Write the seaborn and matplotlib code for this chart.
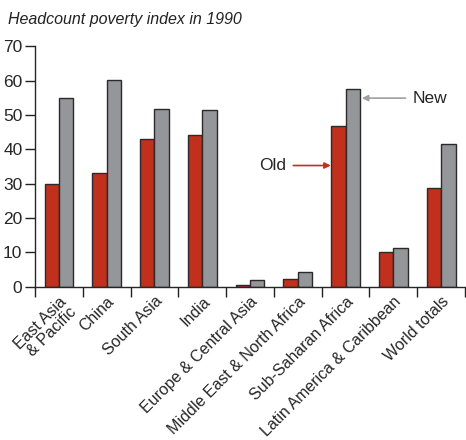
import pandas as pd
import numpy as np
import matplotlib.pyplot as plt
import seaborn as sns

regions = ['East Asia\n& Pacific', 'China', 'South Asia', 'India', 'Europe & Central Asia',
           'Middle East & North Africa', 'Sub-Saharan Africa', 'Latin America & Caribbean',
           'World totals']
old = [29.9, 33.1, 43.0, 44.3, 0.5, 2.3, 46.7, 10.2, 28.7]
new = [54.8, 60.2, 51.7, 51.3, 2.0, 4.3, 57.6, 11.3, 41.7]

sns.set_style('ticks')
plt.rcParams['font.family'] = ['Liberation Sans', 'DejaVu Sans']

df = pd.DataFrame({'region': regions * 2,
                   'value': old + new,
                   'kind': ['Old'] * len(old) + ['New'] * len(new)})

fig = plt.figure(figsize=(4.66, 4.40), dpi=100)
ax = fig.add_axes([0.075, 0.348, 0.923, 0.547])
sns.barplot(data=df, x='region', y='value', hue='kind', order=regions,
            hue_order=['Old', 'New'], palette=['#c0301d', '#95969a'], saturation=1,
            width=0.6, gap=0, edgecolor='#2a2a2a', linewidth=1, ax=ax, legend=False)

ax.set_ylim(0, 70)
ax.set_xlim(-0.5, len(regions) - 0.5)
ax.set_yticks(range(0, 71, 10))
ax.set_xlabel('')
ax.set_ylabel('')
sns.despine(ax=ax)
ax.spines['left'].set_linewidth(1)
ax.spines['bottom'].set_linewidth(1)

# ticks at category boundaries, labels centered
ax.set_xticks(np.arange(-0.5, len(regions)), minor=True)
ax.tick_params(axis='x', which='major', length=0, pad=5)
ax.tick_params(axis='x', which='minor', length=7, width=1, color='#222222')
ax.tick_params(axis='y', length=7, width=1, color='#222222', labelsize=12.5, pad=2)
ax.set_xticklabels(regions, rotation=45, ha='right', rotation_mode='anchor',
                   fontsize=11.5, linespacing=0.95)
for lab in ax.get_xticklabels():
    lab.set_x(lab.get_position()[0])

fig.text(0.018, 0.945, 'Headcount poverty index in 1990', fontsize=11.5,
         style='italic', color='#222222')

ax.annotate('New', xy=(6.34, 54.9), xytext=(7.41, 54.9), fontsize=12.5,
            va='center', ha='left',
            arrowprops=dict(arrowstyle='-|>', color='#a0a0a0', lw=1.2,
                            shrinkA=3, shrinkB=0, mutation_scale=9))
ax.annotate('Old', xy=(5.69, 35.3), xytext=(4.75, 35.3), fontsize=12.5,
            va='center', ha='right',
            arrowprops=dict(arrowstyle='-|>', color='#c0301d', lw=1.2,
                            shrinkA=3, shrinkB=0, mutation_scale=9))

fig.savefig('out.png', dpi=100)
